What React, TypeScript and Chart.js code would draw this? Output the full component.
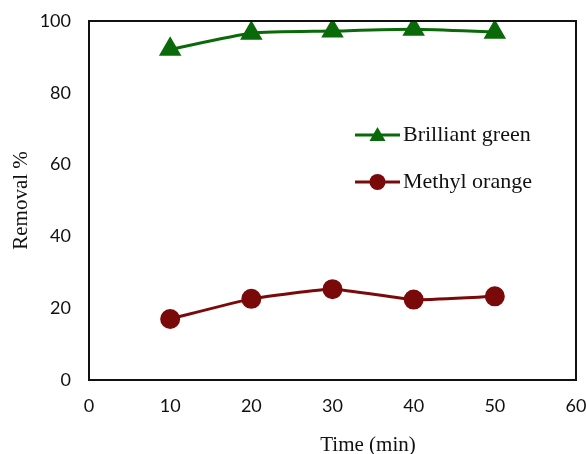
import React, { useEffect, useRef } from "react";
import { Chart, registerables } from "chart.js";

Chart.register(...registerables);

const timeMin = [10, 20, 30, 40, 50];
const brilliantGreen = [92.1, 96.6, 97.2, 97.7, 96.9];
const methylOrange = [17.0, 22.6, 25.3, 22.4, 23.3];
const seriesLabels = ["Brilliant green", "Methyl orange"];
const xTitle = "Time (min)";
const yTitle = "Removal %";

const GREEN = "#0a6a0a";
const RED = "#7a0a0a";
const SERIF = "'Liberation Serif', 'Times New Roman', serif";
const SANS = "Lato, 'Open Sans', sans-serif";

const framePlugin = {
  id: "frame",
  afterDraw(chart: any) {
    const { ctx, chartArea } = chart;
    ctx.save();
    ctx.strokeStyle = "#111";
    ctx.lineWidth = 2;
    ctx.strokeRect(chartArea.left, chartArea.top, chartArea.right - chartArea.left, chartArea.bottom - chartArea.top);
    // x title
    ctx.fillStyle = "#111";
    ctx.font = `21px ${SERIF}`;
    ctx.textAlign = "center";
    ctx.textBaseline = "middle";
    ctx.fillText(xTitle, chartArea.left + 279, chartArea.bottom + 65);
    // legend
    const ds = chart.data.datasets;
    ds.forEach((d: any, i: number) => {
      const y = chartArea.top + 114 + i * 47;
      const x0 = chartArea.left + 266;
      const x1 = chartArea.left + 311;
      ctx.strokeStyle = d.borderColor;
      ctx.lineWidth = 3;
      ctx.beginPath();
      ctx.moveTo(x0, y);
      ctx.lineTo(x1, y);
      ctx.stroke();
      const cx = (x0 + x1) / 2;
      ctx.fillStyle = d.pointBackgroundColor;
      ctx.beginPath();
      if (d.pointStyle === "triangle") {
        ctx.moveTo(cx, y - 8);
        ctx.lineTo(cx + 8, y + 6);
        ctx.lineTo(cx - 8, y + 6);
        ctx.closePath();
      } else {
        ctx.arc(cx, y, 8, 0, Math.PI * 2);
      }
      ctx.fill();
      ctx.fillStyle = "#111";
      ctx.font = `22px ${SERIF}`;
      ctx.textAlign = "left";
      ctx.textBaseline = "middle";
      ctx.fillText(d.label, x1 + 3, y);
    });
    ctx.restore();
  },
};

export default function App() {
  const ref = useRef<HTMLCanvasElement>(null);
  useEffect(() => {
    const canvas = ref.current!;
    const chart = new Chart(canvas, {
      type: "line",
      data: {
        datasets: [
          {
            label: seriesLabels[0],
            data: timeMin.map((x, i) => ({ x, y: brilliantGreen[i] })),
            borderColor: GREEN,
            backgroundColor: GREEN,
            pointBackgroundColor: GREEN,
            pointBorderColor: GREEN,
            pointStyle: "triangle",
            pointRadius: 10,
            borderWidth: 3,
            tension: 0.2,
          },
          {
            label: seriesLabels[1],
            data: timeMin.map((x, i) => ({ x, y: methylOrange[i] })),
            borderColor: RED,
            backgroundColor: RED,
            pointBackgroundColor: RED,
            pointBorderColor: RED,
            pointStyle: "circle",
            pointRadius: 8.5,
            borderWidth: 3,
            tension: 0.15,
          },
        ],
      },
      options: {
        responsive: false,
        animation: false,
        layout: { padding: { top: 21, right: 0, left: 0, bottom: 0 } },
        plugins: { legend: { display: false }, tooltip: { enabled: false } },
        scales: {
          x: {
            type: "linear",
            min: 0,
            max: 60,
            ticks: { stepSize: 10, color: "#111", font: { family: SANS, size: 18 }, padding: 15 },
            grid: { display: false, drawTicks: false },
            border: { display: false },
            afterFit(scale: any) {
              scale.height = 74;
              scale.paddingLeft = 0;
              scale.paddingRight = 0;
            },
          },
          y: {
            min: 0,
            max: 100,
            ticks: { stepSize: 20, color: "#111", font: { family: SANS, size: 18 }, padding: 18 },
            grid: { display: false, drawTicks: false },
            border: { display: false },
            title: { display: true, text: yTitle, color: "#111", font: { family: SERIF, size: 21 }, padding: { top: 9, bottom: 0 } },
            afterFit(scale: any) {
              scale.width = 89;
              scale.paddingTop = 0;
              scale.paddingBottom = 0;
            },
          },
        },
      },
      plugins: [framePlugin],
    });
    return () => chart.destroy();
  }, []);
  return (
    <div style={{ position: "fixed", left: 0, top: 0, width: 586, height: 454, background: "#fff", overflow: "hidden" }}>
      <canvas ref={ref} width={589} height={454} />
    </div>
  );
}
